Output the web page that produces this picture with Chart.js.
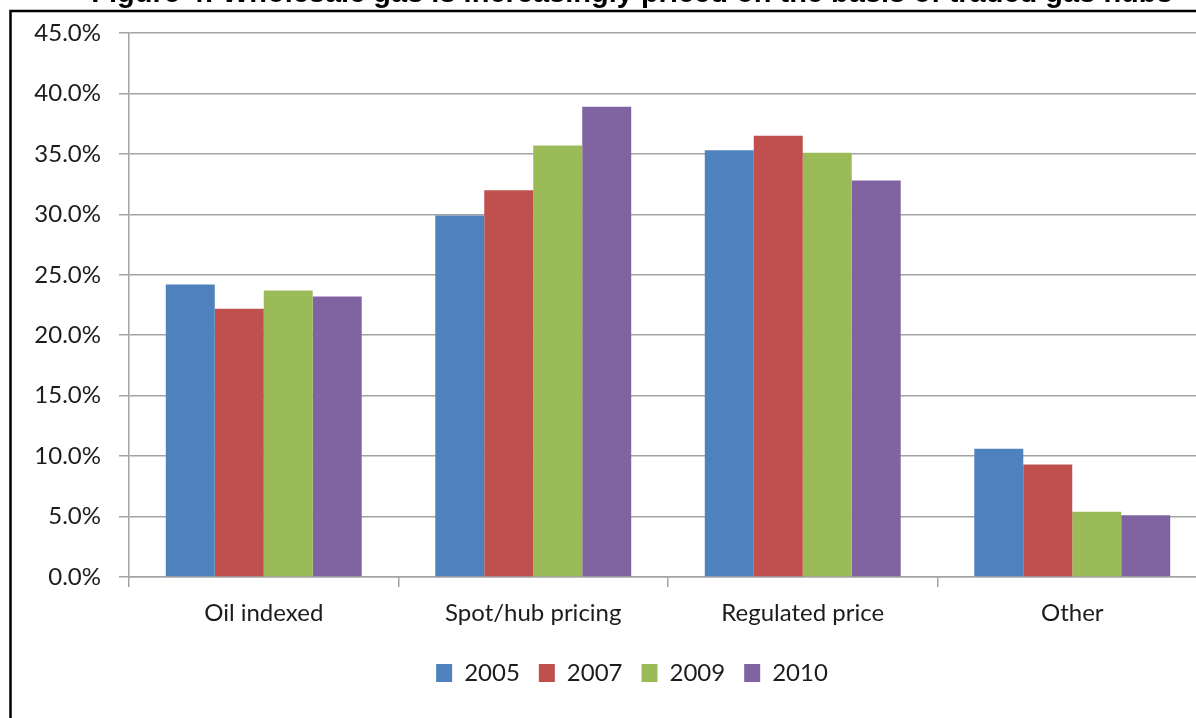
<!DOCTYPE html>
<html>
<head>
<meta charset="utf-8">
<title>Wholesale gas pricing</title>
<script src="https://cdn.jsdelivr.net/npm/chart.js@4.4.1/dist/chart.umd.min.js"></script>
<style>
  html, body { margin: 0; padding: 0; background: #fff; overflow: hidden; }
  #wrap { position: absolute; left: 0; top: -30px; width: 1264px; height: 760px; }
</style>
</head>
<body>
<div id="wrap"><canvas id="gasChart" width="1264" height="760"></canvas></div>
<script>
// share of wholesale gas by price formation mechanism, in percent
const categories = ['Oil indexed', 'Spot/hub pricing', 'Regulated price', 'Other'];
const years = ['2005', '2007', '2009', '2010'];
const share2005 = [24.2, 29.9, 35.3, 10.6];
const share2007 = [22.2, 32.0, 36.5, 9.3];
const share2009 = [23.7, 35.7, 35.1, 5.4];
const share2010 = [23.2, 38.9, 32.8, 5.1];
const yTicks = [0, 5, 10, 15, 20, 25, 30, 35, 40, 45];
const colours = ['#4F81BD', '#C0504D', '#9BBB59', '#8064A2'];

const gridColour = '#a3a3a3';

Chart.defaults.font.family = 'Lato';
Chart.defaults.font.size = 24;
Chart.defaults.color = '#1c1c1c';

// black frame around the figure
const framePlugin = {
    id: 'frame',
    beforeDraw(chart) {
        const ctx = chart.ctx;
        ctx.save();
        ctx.strokeStyle = '#000';
        ctx.lineWidth = 2.5;
        ctx.strokeRect(10.5, 41, 1400, 900);
        ctx.restore();
    }
};

const data = {
    labels: categories,
    datasets: [share2005, share2007, share2009, share2010].map((values, i) => ({
        label: years[i],
        data: values,
        yAxisID: 'y',
        backgroundColor: colours[i],
        borderWidth: 0,
        barPercentage: 1,
        categoryPercentage: 0.727
    }))
};

const config = {
    type: 'bar',
    data: data,
    options: {
        responsive: false,
        animation: false,
        devicePixelRatio: 1,
        layout: { padding: { left: 0, right: 0, top: 0, bottom: 35 } },
        plugins: {
            title: {
                display: true,
                text: 'Figure 4: Wholesale gas is increasingly priced on the basis of traded gas hubs',
                font: { family: 'Liberation Sans', weight: 'bold', size: 29 },
                color: '#000',
                padding: { top: 6.6, bottom: 21.6 }
            },
            legend: {
                position: 'bottom',
                labels: { boxWidth: 16, boxHeight: 18, padding: 19 }
            },
            tooltip: { enabled: false }
        },
        scales: {
            x: {
                afterFit(scale) { scale.height = 65; },
                grid: { offset: true, drawOnChartArea: false, color: gridColour, tickLength: 10, lineWidth: 1.5 },
                border: { color: gridColour, width: 1.5 },
                ticks: { padding: 12 }
            },
            y: {
                position: 'left',
                min: 0,
                max: 45,
                afterFit(scale) { scale.width = 129; },
                afterBuildTicks(scale) { scale.ticks = yTicks.map(v => ({ value: v })); },
                grid: { color: gridColour, tickLength: 10, lineWidth: 1.5 },
                border: { color: gridColour, width: 1.5 },
                ticks: { padding: 18, callback: v => v.toFixed(1) + '%' }
            },
            // empty spacer on the right so the plot runs past the frame edge
            spacer: {
                type: 'linear',
                position: 'right',
                afterFit(scale) { scale.width = 57; },
                grid: { display: false },
                border: { display: false },
                ticks: { display: false }
            }
        }
    },
    plugins: [framePlugin]
};

const gasChart = new Chart(document.getElementById('gasChart'), config);
</script>
</body>
</html>
